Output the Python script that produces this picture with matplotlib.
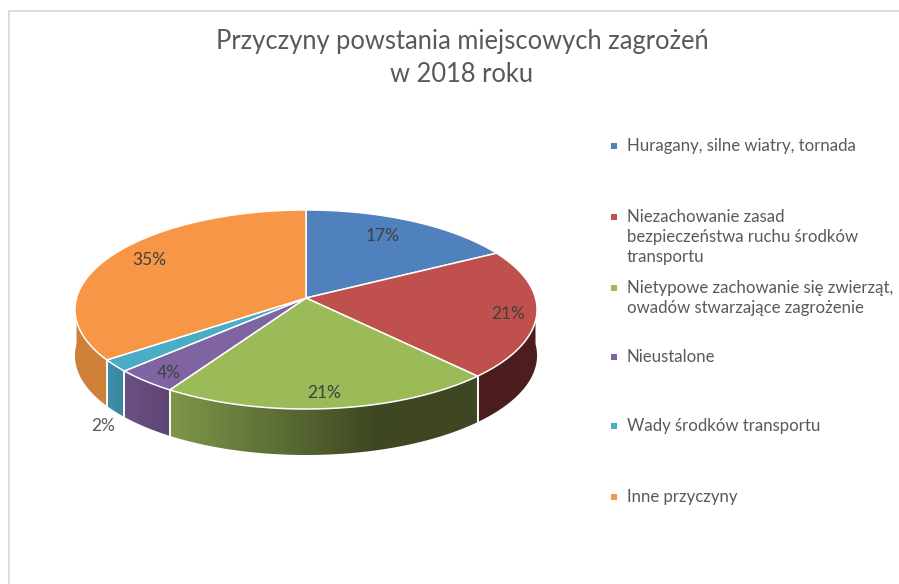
"""3D style pie of local hazard causes, 2018."""
import matplotlib
matplotlib.use("Agg")
import matplotlib.pyplot as plt
import numpy as np
from matplotlib.colors import LinearSegmentedColormap
from matplotlib.patches import Polygon, Rectangle

categories = [
    "Huragany, silne wiatry, tornada",
    "Niezachowanie zasad\nbezpieczeństwa ruchu środków\ntransportu",
    "Nietypowe zachowanie się zwierząt,\nowadów stwarzające zagrożenie",
    "Nieustalone",
    "Wady środków transportu",
    "Inne przyczyny",
]
values = [17, 21, 21, 4, 2, 35]
title = "Przyczyny powstania miejscowych zagrożeń\nw 2018 roku"

colors = ["#4f81bd", "#c0504d", "#9bbb59", "#8064a2", "#4bacc6", "#f79646"]
# wall shading, left to right
rim_colors = [
    ["#3a5f8c", "#3a5f8c"],
    ["#4a1c1c", "#4f1f1f"],
    ["#7f9648", "#5e7036", "#3e4722", "#3e4722"],
    ["#6b5085", "#5e4673"],
    ["#3f8fa8", "#3a879e"],
    ["#cf8038", "#d08239"],
]
label_pos = [(383, 236), (508, 314), (324, 393), (169, 373), (103, 426), (149, 260)]
legend_y = [146, 217, 288, 357, 426, 497]

CX, CY = 306, 298
A, B, K = 229.5, 98.2, 0.1154
DEPTH = 46
TEXT = "#595959"
FONT = "Lato"


def project(theta):
    """Tilted circle: theta in degrees, clockwise from the top."""
    t = np.radians(theta)
    u, v = np.sin(t), np.cos(t)
    w = 1 + K * v
    return CX + A * u / w, CY - B * v / w


fig = plt.figure(figsize=(8.99, 5.84), dpi=100)
ax = fig.add_axes([0, 0, 1, 1])
ax.axis("off")

ax.add_patch(Rectangle((9, 11), 1000, 1000, fc="white", ec="#d9d9d9", lw=1.3))

edges = np.cumsum([0] + values) * 3.6

# side wall first, only the front half shows
for i in range(len(values)):
    lo, hi = max(edges[i], 90), min(edges[i + 1], 270)
    if lo >= hi:
        continue
    th = np.linspace(lo, hi, 120)
    x, y = project(th)
    pts = np.r_[np.c_[x, y], np.c_[x[::-1], y[::-1] + DEPTH]]
    wall = Polygon(pts, closed=True, fc="none", ec="none")
    ax.add_patch(wall)
    cmap = LinearSegmentedColormap.from_list("rim", rim_colors[i])
    grad = np.linspace(0, 1, 256).reshape(1, -1)
    im = ax.imshow(grad, cmap=cmap, aspect="auto",
                   extent=(x.min(), x.max(), y.max() + DEPTH, y.min()), zorder=2)
    im.set_clip_path(wall)
    for j in (0, -1):
        if th[j] not in (90, 270):
            ax.plot([x[j], x[j]], [y[j], y[j] + DEPTH], color="white", lw=1.1, zorder=3)

ax.set_xlim(0, 899)
ax.set_ylim(584, 0)

# top face
for i in range(len(values)):
    th = np.linspace(edges[i], edges[i + 1], 160)
    x, y = project(th)
    pts = np.r_[[[CX, CY]], np.c_[x, y]]
    ax.add_patch(Polygon(pts, closed=True, fc=colors[i], ec="white", lw=1.1,
                         joinstyle="round", zorder=4))

for v, (lx, ly) in zip(values, label_pos):
    ax.text(lx, ly, f"{v}%", ha="center", va="center", fontsize=12.5,
            color="#404040" if lx > 110 else TEXT, family=FONT, zorder=5)

ax.text(462, 58, title, ha="center", va="center", fontsize=18.4, color=TEXT,
        family=FONT, linespacing=1.38)

for name, col, ly in zip(categories, colors, legend_y):
    ax.scatter([614], [ly], marker="s", s=20, color=col, linewidths=0, zorder=5)
    ax.text(627, ly - 8, name, ha="left", va="top", fontsize=12.1, color=TEXT,
            family=FONT, linespacing=1.3)

fig.savefig("out.png", dpi=100)
